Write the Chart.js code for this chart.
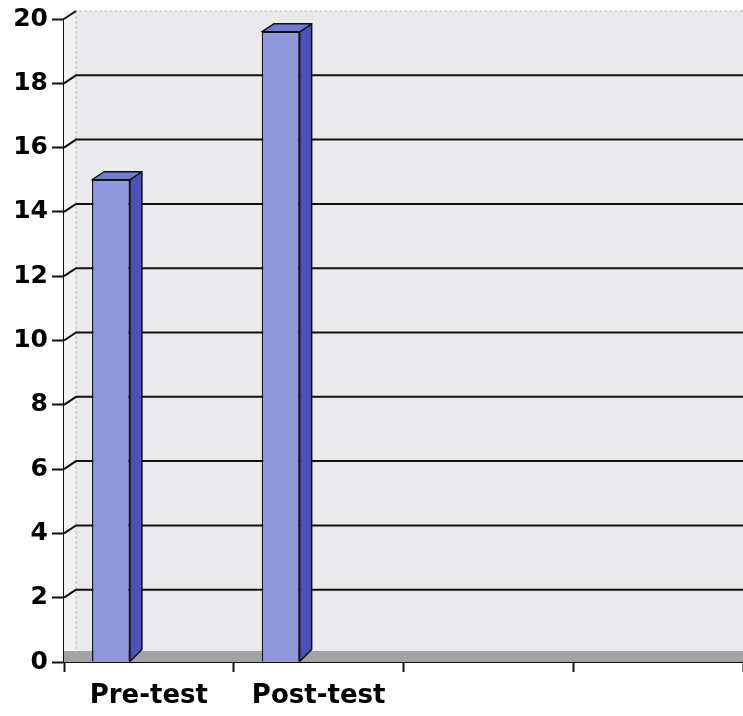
<!DOCTYPE html>
<html>
<head>
<meta charset="utf-8">
<script src="https://cdn.jsdelivr.net/npm/chart.js@4.4.1/dist/chart.umd.min.js"></script>
<style>
  html, body { margin: 0; padding: 0; background: #fff; }
  #wrap { width: 743px; height: 716px; }
</style>
</head>
<body>
<div id="wrap"><canvas id="myChart" width="743" height="716"></canvas></div>
<script>
const categories = ["Pre-test", "Post-test", "", ""];
const scores = [15, 19.6, null, null];
const yTicks = [0, 2, 4, 6, 8, 10, 12, 14, 16, 18, 20];

const DX = 12, DY = 8;

// back wall, side wall, floor and gridlines drawn behind the bars
const walls = {
  id: "walls",
  beforeDatasetsDraw(chart) {
    const { ctx, chartArea: a, scales } = chart;
    const y = scales.y;
    ctx.save();
    ctx.fillStyle = "#f3f3f4";
    ctx.fillRect(a.left, a.top - DY, DX, a.bottom - a.top + DY);
    ctx.fillStyle = "#eaeaec";
    ctx.fillRect(a.left + DX, a.top - DY, a.right - a.left - DX, a.bottom - a.top);
    // floor
    ctx.fillStyle = "#a2a2a9";
    ctx.fillRect(a.left, a.bottom - DY - 3, a.right - a.left, DY + 3);
    // top edge and back wall edge, faint
    ctx.strokeStyle = "#b8b8bc";
    ctx.lineWidth = 1;
    ctx.setLineDash([3, 2]);
    ctx.beginPath();
    ctx.moveTo(a.left + 2, a.top - 2);
    ctx.lineTo(a.left + DX, a.top - DY);
    ctx.lineTo(a.right, a.top - DY);
    ctx.moveTo(a.left + DX, a.top - DY);
    ctx.lineTo(a.left + DX, a.bottom - DY);
    ctx.stroke();
    ctx.setLineDash([]);
    // gridlines
    ctx.strokeStyle = "#111";
    ctx.lineWidth = 2;
    yTicks.forEach(v => {
      if (v === 0) return;
      const py = y.getPixelForValue(v);
      ctx.beginPath();
      ctx.moveTo(a.left, py);
      ctx.lineTo(a.left + DX, py - DY);
      if (v !== 20) ctx.lineTo(a.right, py - DY);
      ctx.stroke();
    });
    ctx.restore();
  }
};

// side and top faces of each bar
const faces = {
  id: "faces",
  afterDatasetsDraw(chart) {
    const { ctx } = chart;
    const meta = chart.getDatasetMeta(0);
    ctx.save();
    ctx.strokeStyle = "#111";
    ctx.lineWidth = 1.5;
    ctx.lineJoin = "round";
    meta.data.forEach((bar, i) => {
      if (scores[i] == null) return;
      const { x, y, base, width } = bar.getProps(["x", "y", "base", "width"], true);
      const l = x - width / 2, r = x + width / 2;
      ctx.fillStyle = "#4c52b8";
      ctx.beginPath();
      ctx.moveTo(r, y);
      ctx.lineTo(r + DX, y - DY);
      ctx.lineTo(r + DX, base - DY - 4);
      ctx.lineTo(r, base);
      ctx.closePath();
      ctx.fill();
      ctx.stroke();
      ctx.fillStyle = "#737bd2";
      ctx.beginPath();
      ctx.moveTo(l, y);
      ctx.lineTo(l + DX, y - DY);
      ctx.lineTo(r + DX, y - DY);
      ctx.lineTo(r, y);
      ctx.closePath();
      ctx.fill();
      ctx.stroke();
    });
    ctx.restore();
  }
};

const ctx = document.getElementById("myChart");
new Chart(ctx, {
  type: "bar",
  data: {
    labels: categories,
    datasets: [
      {
        label: "Score",
        data: scores,
        backgroundColor: "#9098dd",
        borderColor: "#111",
        borderWidth: 1.5,
        barPercentage: 1,
        categoryPercentage: 0.67,
      },
      { label: "", data: [], barPercentage: 1, categoryPercentage: 0.67 },
      { label: "", data: [], barPercentage: 1, categoryPercentage: 0.67 },
    ],
  },
  options: {
    responsive: false,
    animation: false,
    layout: { padding: { top: 18, right: 0, left: 0, bottom: 0 } },
    plugins: { legend: { display: false }, tooltip: { enabled: false } },
    scales: {
      x: {
        afterFit: s => { s.height = 54; },
        grid: {
          offset: true,
          drawOnChartArea: false,
          tickLength: 10,
          tickWidth: 2,
          color: "#111",
        },
        border: { display: true, color: "#111", width: 2 },
        ticks: {
          color: "#000",
          padding: 9,
          font: { family: "'DejaVu Sans'", size: 26, weight: "bold" },
        },
      },
      y: {
        min: 0,
        max: 20,
        afterFit: s => { s.width = 64; },
        afterBuildTicks: s => { s.ticks = yTicks.map(v => ({ value: v })); },
        grid: {
          drawOnChartArea: false,
          tickLength: 12,
          tickWidth: 2,
          color: "#111",
        },
        border: { display: true, color: "#111", width: 2 },
        ticks: {
          color: "#000",
          padding: 4,
          font: { family: "'DejaVu Sans'", size: 25, weight: "bold" },
        },
      },
    },
  },
  plugins: [walls, faces],
});
</script>
</body>
</html>
